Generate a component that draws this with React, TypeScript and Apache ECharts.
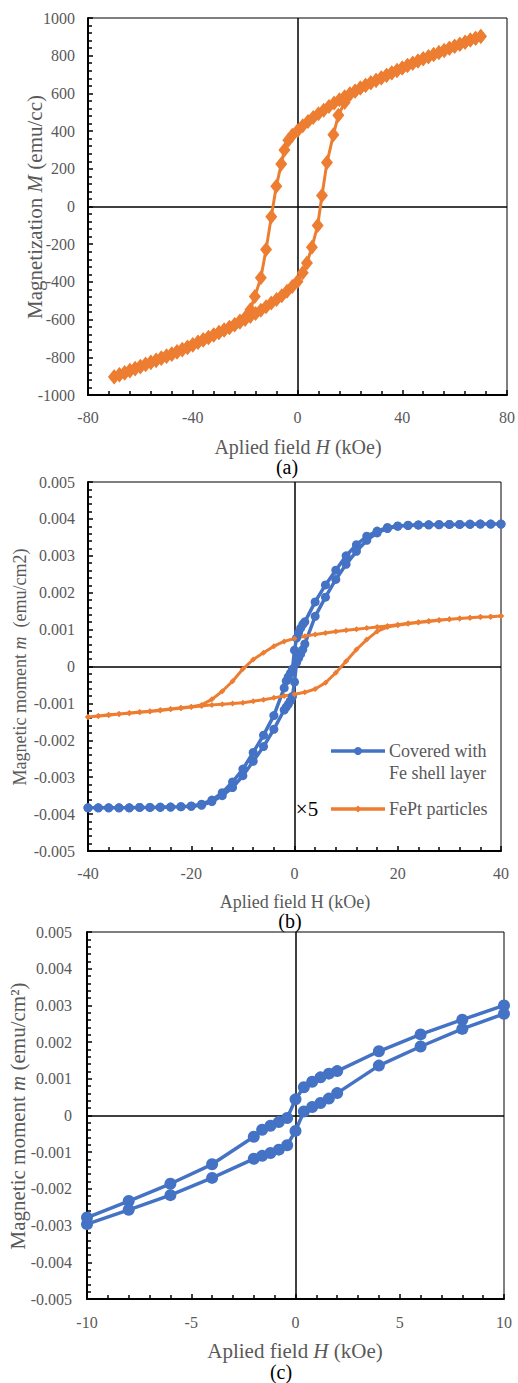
import React, { useEffect, useRef } from "react";
import * as echarts from "echarts";

// ---------- Panel (a): FePt film, M-H loop ----------
const aUpH = [70, 68, 66, 64, 62, 60, 58, 56, 54, 52, 50, 48, 46, 44, 42, 40, 38, 36, 34, 32, 30, 28, 26, 24, 22, 20, 18, 16, 14, 12, 10, 8, 6, 4, 2, 0, -2, -3.5, -5, -6.2, -8.1, -10, -12, -14, -16.3, -18, -20, -22, -24, -26, -28, -30, -32, -34, -36, -38, -40, -42, -44, -46, -48, -50, -52, -54, -56, -58, -60, -62, -64, -66, -68, -70];
const aUpM = [903, 893, 883, 872, 861, 850, 839, 828, 817, 806, 795, 784, 772, 760, 748, 735, 721, 708, 695, 682, 669, 656, 642, 628, 613, 598, 582, 566, 549, 530, 511, 492, 472, 451, 428, 402, 378, 352, 300, 225, 107, -55, -228, -378, -478, -548, -590, -608, -626, -640, -654, -667, -680, -693, -706, -719, -732, -745, -757, -769, -781, -792, -803, -814, -825, -836, -847, -858, -869, -880, -891, -903];
const aLoH = [-70, -68, -66, -64, -62, -60, -58, -56, -54, -52, -50, -48, -46, -44, -42, -40, -38, -36, -34, -32, -30, -28, -26, -24, -22, -20, -18, -16, -14, -12, -10, -8, -6, -4, -2, 0, 2, 3.6, 5.5, 7.7, 9.35, 11.25, 13.7, 15.6, 18, 20, 22, 24, 26, 28, 30, 32, 34, 36, 38, 40, 42, 44, 46, 48, 50, 52, 54, 56, 58, 60, 62, 64, 66, 68, 70];
const aLoM = [-905, -894, -884, -873, -862, -851, -840, -829, -818, -807, -796, -785, -773, -761, -749, -736, -722, -709, -696, -683, -670, -657, -643, -629, -614, -599, -583, -567, -550, -532, -512, -493, -473, -450, -425, -398, -352, -300, -216, -101, 58, 233, 380, 484, 552, 594, 612, 629, 643, 657, 670, 683, 696, 709, 722, 735, 748, 760, 772, 784, 795, 806, 817, 828, 839, 850, 861, 872, 883, 893, 902];

// ---------- Panel (b): covered with Fe shell (blue) ----------
const bBlueUpH = [40, 38, 36, 34, 32, 30, 28, 26, 24, 22, 20, 18, 16, 14, 12, 10, 8, 6, 4, 2, 1.6, 1.2, 0.8, 0.4, 0, -0.4, -0.8, -1.2, -1.6, -2, -4, -6, -8, -10, -12, -14, -16, -18, -20, -22, -24, -26, -28, -30, -32, -34, -36, -38, -40];
const bBlueUpM = [0.00386, 0.00386, 0.00386, 0.00386, 0.00385, 0.00385, 0.00385, 0.00384, 0.00384, 0.00383, 0.00381, 0.00377, 0.00367, 0.00353, 0.0033, 0.003, 0.00261, 0.00221, 0.00175, 0.00121, 0.00114, 0.00104, 0.00092, 0.00077, 0.00044, -0.00007, -0.00018, -0.00028, -0.00039, -0.00058, -0.00133, -0.00186, -0.00233, -0.00278, -0.00313, -0.00342, -0.00362, -0.00373, -0.00378, -0.0038, -0.00381, -0.00382, -0.00382, -0.00382, -0.00383, -0.00383, -0.00383, -0.00383, -0.00383];
const bBlueLoH = [-40, -38, -36, -34, -32, -30, -28, -26, -24, -22, -20, -18, -16, -14, -12, -10, -8, -6, -4, -2, -1.6, -1.2, -0.8, -0.4, 0, 0.4, 0.8, 1.2, 1.6, 2, 4, 6, 8, 10, 12, 14, 16, 18, 20, 22, 24, 26, 28, 30, 32, 34, 36, 38, 40];
const bBlueLoM = [-0.00383, -0.00383, -0.00383, -0.00383, -0.00383, -0.00382, -0.00382, -0.00381, -0.00381, -0.0038, -0.00379, -0.00376, -0.00366, -0.0035, -0.00328, -0.00296, -0.00257, -0.00217, -0.0017, -0.00118, -0.0011, -0.00102, -0.00093, -0.00081, -0.00042, 0.00011, 0.00023, 0.00034, 0.00046, 0.00061, 0.00136, 0.00188, 0.00236, 0.00277, 0.00312, 0.00342, 0.00362, 0.00374, 0.0038, 0.00382, 0.00383, 0.00384, 0.00384, 0.00385, 0.00385, 0.00385, 0.00386, 0.00386, 0.00386];

// ---------- Panel (b): FePt particles x5 (orange) ----------
const bOrUpH = [40, 38, 36, 34, 32, 30, 28, 26, 24, 22, 20, 18, 16, 14, 12, 10, 8, 6, 4, 2, 0, -2, -4, -6, -8, -10, -12, -14, -16, -18, -20, -22, -24, -26, -28, -30, -32, -34, -36, -38, -40];
const bOrUpM = [0.00137, 0.00135, 0.00134, 0.00132, 0.0013, 0.00128, 0.00126, 0.00123, 0.0012, 0.00117, 0.00113, 0.0011, 0.00107, 0.00104, 0.00101, 0.00098, 0.00095, 0.00091, 0.00087, 0.00082, 0.00076, 0.00068, 0.00055, 0.00037, 0.00019, -0.00007, -0.0004, -0.00067, -0.00089, -0.00104, -0.00109, -0.00112, -0.00115, -0.00118, -0.00121, -0.00123, -0.00126, -0.00129, -0.00131, -0.00134, -0.00137];
const bOrLoH = [-40, -38, -36, -34, -32, -30, -28, -26, -24, -22, -20, -18, -16, -14, -12, -10, -8, -6, -4, -2, 0, 2, 4, 6, 8, 10, 12, 14, 16, 18, 20, 22, 24, 26, 28, 30, 32, 34, 36, 38, 40];
const bOrLoM = [-0.00137, -0.00134, -0.00132, -0.00129, -0.00127, -0.00124, -0.00122, -0.00119, -0.00116, -0.00113, -0.0011, -0.00107, -0.00104, -0.00102, -0.001, -0.00098, -0.00094, -0.0009, -0.00085, -0.0008, -0.00075, -0.0007, -0.00061, -0.00044, -0.00017, 0.00014, 0.00046, 0.00073, 0.00095, 0.00107, 0.00112, 0.00116, 0.00119, 0.00122, 0.00125, 0.00128, 0.0013, 0.00132, 0.00134, 0.00135, 0.00137];

// ---------- Panel (c): blue loop, low-field range ----------
const cRange = 10;

const SERIF = "Liberation Serif";
const GREY = "#595959";
const ORANGE = "#ED7D31";
const BLUE = "#4472C4";

const pairs = (h: number[], m: number[]) => h.map((x, i) => [x, m[i]]);
const within = (p: number[][], r: number) => p.filter((d) => Math.abs(d[0]) <= r);

function xAxisOf(grid: number, min: number, max: number, interval: number, margin: number) {
  return {
    type: "value",
    gridIndex: grid,
    min,
    max,
    interval,
    axisLine: { show: true, onZero: false, lineStyle: { color: "#000", width: 2 } },
    axisTick: { show: true, inside: true, length: 5, lineStyle: { color: "#000", width: 1.5 } },
    minorTick: { show: true, splitNumber: 5, length: 4, lineStyle: { color: "#000", width: 1.5 } },
    splitLine: { show: false },
    axisLabel: {
      color: GREY,
      fontFamily: SERIF,
      fontSize: 16,
      margin,
      showMinLabel: true,
      showMaxLabel: true,
      formatter: (v: number) => String(v),
    },
  };
}

function yAxisOf(grid: number, min: number, max: number, interval: number, margin: number, fmt: (v: number) => string) {
  return {
    type: "value",
    gridIndex: grid,
    min,
    max,
    interval,
    axisLine: { show: true, onZero: false, lineStyle: { color: "#000", width: 2 } },
    axisTick: { show: true, inside: true, length: 5, lineStyle: { color: "#000", width: 1.5 } },
    minorTick: { show: true, splitNumber: 5, length: 4, lineStyle: { color: "#000", width: 1.5 } },
    splitLine: { show: false },
    axisLabel: { color: GREY, fontFamily: SERIF, fontSize: 16, margin, showMinLabel: true, showMaxLabel: true, formatter: fmt },
  };
}

const zeroLines = {
  silent: true,
  symbol: "none",
  z: 1,
  label: { show: false },
  emphasis: { disabled: true },
  lineStyle: { color: "#000", width: 1.5, type: "solid" },
  data: [{ xAxis: 0 }, { yAxis: 0 }],
};

const fmtInt = (v: number) => String(Math.round(v));
const fmt3 = (v: number) => (Math.abs(v) < 1e-12 ? "0" : v.toFixed(3));

function richTitle(parts: [string, boolean][], size: number, color: string) {
  const text = parts.map(([t, it]) => `{${it ? "i" : "n"}|${t}}`).join("");
  return {
    text,
    rich: {
      n: { fontFamily: SERIF, fontSize: size, fill: color, color },
      i: { fontFamily: SERIF, fontSize: size, fontStyle: "italic", fill: color, color },
    },
  };
}

function textEl(x: number, y: number, style: any, rotation = 0) {
  return {
    type: "text",
    x,
    y,
    rotation,
    silent: true,
    style: {
      ...style,
      align: "center",
      verticalAlign: "middle",
      textAlign: "center",
      textVerticalAlign: "middle",
    },
  };
}

function plainText(x: number, y: number, text: string, size: number, color: string, align = "center") {
  return {
    type: "text",
    x,
    y,
    silent: true,
    style: {
      text,
      fontFamily: SERIF,
      fontSize: size,
      fill: color,
      align,
      verticalAlign: "middle",
      textAlign: align,
      textVerticalAlign: "middle",
    },
  };
}

export default function App() {
  const ref = useRef<HTMLDivElement>(null);

  useEffect(() => {
    if (!ref.current) return;
    const chart = echarts.init(ref.current, null, { renderer: "svg" });

    const aData = [...pairs(aUpH, aUpM), ...pairs(aLoH, aLoM)];
    const bBlue = [...pairs(bBlueUpH, bBlueUpM), ...pairs(bBlueLoH, bBlueLoM)];
    const bOrange = [...pairs(bOrUpH, bOrUpM), ...pairs(bOrLoH, bOrLoM)];
    const cBlue = [...within(pairs(bBlueUpH, bBlueUpM), cRange), ...within(pairs(bBlueLoH, bBlueLoM), cRange)];

    const option: any = {
      animation: false,
      backgroundColor: "#fff",
      grid: [
        { left: 88, top: 18, width: 420, height: 377, show: true, borderColor: "#000", borderWidth: 1 },
        { left: 88, top: 482, width: 413, height: 369, show: true, borderColor: "#000", borderWidth: 1 },
        { left: 87, top: 932, width: 417, height: 367, show: true, borderColor: "#000", borderWidth: 1 },
      ],
      xAxis: [xAxisOf(0, -80, 80, 40, 14), xAxisOf(1, -40, 40, 20, 14), xAxisOf(2, -10, 10, 5, 15)],
      yAxis: [
        yAxisOf(0, -1000, 1000, 200, 13, fmtInt),
        yAxisOf(1, -0.005, 0.005, 0.001, 13, fmt3),
        yAxisOf(2, -0.005, 0.005, 0.001, 15, fmt3),
      ],
      series: [
        {
          name: "FePt film",
          type: "line",
          xAxisIndex: 0,
          yAxisIndex: 0,
          data: aData,
          symbol: "diamond",
          symbolSize: [12, 15],
          showAllSymbol: true,
          itemStyle: { color: ORANGE },
          lineStyle: { color: ORANGE, width: 3 },
          markLine: zeroLines,
        },
        {
          name: "Covered with Fe shell layer",
          type: "line",
          xAxisIndex: 1,
          yAxisIndex: 1,
          data: bBlue,
          symbol: "circle",
          symbolSize: 9,
          showAllSymbol: true,
          itemStyle: { color: BLUE },
          lineStyle: { color: BLUE, width: 3.5 },
          markLine: zeroLines,
        },
        {
          name: "FePt particles",
          type: "line",
          xAxisIndex: 1,
          yAxisIndex: 1,
          data: bOrange,
          symbol: "diamond",
          symbolSize: 6,
          showAllSymbol: true,
          itemStyle: { color: ORANGE },
          lineStyle: { color: ORANGE, width: 3 },
        },
        {
          name: "Covered with Fe shell layer (low field)",
          type: "line",
          xAxisIndex: 2,
          yAxisIndex: 2,
          data: cBlue,
          symbol: "circle",
          symbolSize: 12,
          showAllSymbol: true,
          itemStyle: { color: BLUE },
          lineStyle: { color: BLUE, width: 3.5 },
          markLine: zeroLines,
        },
      ],
      graphic: [
        // Panel (a)
        textEl(298, 447, richTitle([["Aplied field ", false], ["H", true], [" (kOe)", false]], 20, GREY)),
        textEl(35, 207, richTitle([["Magnetization ", false], ["M", true], [" (emu/cc)", false]], 21, GREY), Math.PI / 2),
        plainText(287, 467, "(a)", 20, "#000"),
        // Panel (b)
        textEl(295, 902, richTitle([["Aplied field H (kOe)", false]], 18, GREY)),
        textEl(20, 667, richTitle([["Magnetic moment ", false], ["m", true], ["  (emu/cm2)", false]], 18, GREY), Math.PI / 2),
        plainText(290, 921, "(b)", 20, "#000"),
        // legend (b)
        { type: "line", silent: true, shape: { x1: 331, y1: 751, x2: 385, y2: 751 }, style: { stroke: BLUE, lineWidth: 3.5 } },
        { type: "circle", silent: true, shape: { cx: 358, cy: 751, r: 4 }, style: { fill: BLUE } },
        plainText(389, 751, "Covered with", 18, GREY, "left"),
        plainText(389, 773, "Fe shell layer", 18, GREY, "left"),
        { type: "line", silent: true, shape: { x1: 331, y1: 809, x2: 385, y2: 809 }, style: { stroke: ORANGE, lineWidth: 3.5 } },
        { type: "polygon", silent: true, shape: { points: [[358, 805.5], [361.5, 809], [358, 812.5], [354.5, 809]] }, style: { fill: ORANGE } },
        plainText(389, 809, "FePt particles", 18, GREY, "left"),
        plainText(307, 809, "×5", 21, "#000"),
        // Panel (c)
        textEl(295, 1351, richTitle([["Aplied field ", false], ["H", true], [" (kOe)", false]], 21, GREY)),
        textEl(18, 1116, richTitle([["Magnetic moment ", false], ["m", true], [" (emu/cm²)", false]], 21, GREY), Math.PI / 2),
        plainText(281, 1372, "(c)", 20, "#000"),
      ],
    };

    chart.setOption(option);
    return () => chart.dispose();
  }, []);

  return (
    <div
      ref={ref}
      style={{ position: "absolute", left: 0, top: 0, width: 518, height: 1383, background: "#fff" }}
    />
  );
}
